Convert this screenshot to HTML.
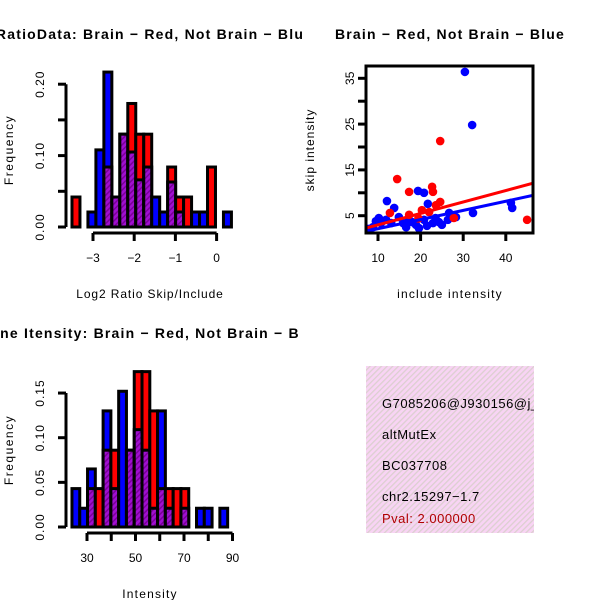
<!DOCTYPE html>
<html><head><meta charset="utf-8"><style>
html,body{margin:0;padding:0;background:#fff;}
svg{display:block;font-family:"Liberation Sans",sans-serif;}
</style></head><body>
<svg id="chart" width="600" height="600" viewBox="0 0 600 600" xmlns="http://www.w3.org/2000/svg">
<defs>
<pattern id="hatch" patternUnits="userSpaceOnUse" width="4" height="4" patternTransform="rotate(45)">
<rect width="4" height="4" fill="#a010d0"/><rect width="1.5" height="4" fill="#7a0099"/>
</pattern>
<pattern id="pinkhatch" patternUnits="userSpaceOnUse" width="4" height="4" patternTransform="rotate(45)">
<rect width="4" height="4" fill="#f8d4f4"/><rect width="1.3" height="4" fill="#dccfd0"/>
</pattern>
<clipPath id="infoclip"><rect x="366" y="366" width="168" height="167"/></clipPath>
</defs>
<g id="p1"></g>
<g id="p2"></g>
<g id="p3"></g>
<g id="info" clip-path="url(#infoclip)" letter-spacing="0.5">
<rect x="366" y="366" width="168" height="167" fill="url(#pinkhatch)"/>
<text x="382" y="408" font-size="13">G7085206@J930156@j_</text>
<text x="382" y="439" font-size="13">altMutEx</text>
<text x="382" y="470" font-size="13">BC037708</text>
<text x="382" y="501" font-size="13">chr2.15297−1.7</text>
<text x="382" y="523" font-size="13" fill="#b00000">Pval: 2.000000</text>
</g>
</svg>
<script>
// Histogram 1: Log2 ratio
const ratioBinStart = -3.51;
const ratioBinWidth = 0.1935;
const ratioBlue = [0,0,0.021,0.108,0.217,0.042,0.13,0.105,0.066,0.084,0.042,0.021,0.063,0.021,0,0.021,0.021,0,0,0.021];
const ratioRed  = [0.042,0,0,0,0.084,0.042,0.13,0.173,0.13,0.13,0,0,0.084,0.042,0.042,0,0,0.084,0,0];
const ratioXTicks = [-3,-2,-1,0];
const ratioXLabels = ["−3","−2","−1","0"];
const ratioYTicks = [0,0.05,0.10,0.15,0.20];
const ratioYLabels = ["0.00","","0.10","","0.20"];
// Histogram 2: Intensity
const intBinStart = 23.8;
const intBinWidth = 3.21;
const intBlue = [0.043,0.021,0.065,0,0.13,0.043,0.152,0.086,0.109,0.086,0.021,0.13,0.021,0,0.021,0,0.021,0.021,0,0.021];
const intRed  = [0,0,0.043,0.043,0.086,0.086,0,0.086,0.174,0.174,0.13,0.043,0.043,0.043,0.043,0,0,0,0,0];
const intXTicks = [30,40,50,60,70,80,90];
const intXLabels = ["30","","50","","70","","90"];
const intYTicks = [0,0.05,0.10,0.15];
const intYLabels = ["0.00","0.05","0.10","0.15"];
// Scatter
const blueX = [30.4,32.1,41.2,41.5,19.4,20.8,12.1,13.8,21.7,28.3,32.3,8.8,10.2,10.7,14.9,15.9,18.9,19.6,22.9,24.3,26.4,26.7,17.3,13.1,20.8,7.7,11.9,16.6,9.5,23.5,25,18,21.5];
const blueY = [36.4,24.8,7.8,6.7,10.4,10.0,8.2,6.7,7.6,4.7,5.6,2.5,4.5,3.4,4.7,3.4,3.0,2.3,3.4,3.6,4.1,5.6,4.1,3.4,4.1,2.1,4.1,2.5,3.8,4.5,3.0,3.6,2.8];
const redX = [24.6,14.5,17.3,22.7,22.9,24.6,20.3,12.8,17.3,23.6,22,27.8,45,19.5];
const redY = [21.3,13.0,10.2,11.3,10.2,8.0,6.2,5.6,5.2,7.3,5.8,4.5,4.1,4.4];
const redFit = [0.5,0.25];
const blueFit = [0.16,0.2];
const scatterXTicks = [10,20,30,40];
const scatterYTicks = [5,10,15,20,25,30,35];
const scatterYLabels = ["5","","15","","25","","35"];

const NS="http://www.w3.org/2000/svg";
function mk(parent,tag,attrs){const e=document.createElementNS(NS,tag);for(const k in attrs)e.setAttribute(k,attrs[k]);parent.appendChild(e);return e;}

function histogram(g,cfg){
  const sx=v=>cfg.x0+(v-cfg.xv0)*cfg.kx;
  const sy=v=>cfg.base-v*cfg.ky;
  for(let i=0;i<cfg.blue.length;i++){
    const b=cfg.blue[i],r=cfg.red[i];
    const xl=sx(cfg.binStart+i*cfg.binWidth), xr=sx(cfg.binStart+(i+1)*cfg.binWidth);
    const hi=Math.max(b,r), lo=Math.min(b,r);
    if(hi>0){
      const e=mk(g,'rect',{x:xl,y:sy(hi),width:xr-xl,height:cfg.base-sy(hi),fill:b>=r?'#0000ff':'#ff0000',stroke:'#000','stroke-width':3});
      
      
    }
    if(lo>0){
      const e=mk(g,'rect',{x:xl,y:sy(lo),width:xr-xl,height:cfg.base-sy(lo),fill:'url(#hatch)',stroke:'#000','stroke-width':3});
      
      
    }
  }
  const yt=cfg.yTicks;
  const ya=mk(g,'line',{x1:cfg.yAxisX,x2:cfg.yAxisX,y1:sy(yt[0]),y2:sy(yt[yt.length-1]),stroke:'#000','stroke-width':3});
  
  
  yt.forEach((v,i)=>{
    mk(g,'line',{x1:cfg.yAxisX-8,x2:cfg.yAxisX,y1:sy(v),y2:sy(v),stroke:'#000','stroke-width':3});
    if(cfg.yLabels[i]){
      const t=mk(g,'text',{x:0,y:0,'font-size':12,'letter-spacing':1,'text-anchor':'middle',transform:`translate(${cfg.yAxisX-22},${sy(v)}) rotate(-90)`});
      t.textContent=cfg.yLabels[i];
      
      
    }
  });
  const xt=cfg.xTicks;
  const xa=mk(g,'line',{x1:sx(xt[0]),x2:sx(xt[xt.length-1]),y1:cfg.xAxisY,y2:cfg.xAxisY,stroke:'#000','stroke-width':3});
  
  
  xt.forEach((v,i)=>{
    mk(g,'line',{x1:sx(v),x2:sx(v),y1:cfg.xAxisY,y2:cfg.xAxisY+8,stroke:'#000','stroke-width':3});
    if(cfg.xLabels[i]){
      const t=mk(g,'text',{x:sx(v),y:cfg.xAxisY+29,'font-size':12,'text-anchor':'middle'});
      t.textContent=cfg.xLabels[i];
      
      
    }
  });
  const tt=mk(g,'text',{x:150,y:cfg.titleY,'font-size':14,'letter-spacing':1.2,'font-weight':'bold','text-anchor':'middle'});
  tt.textContent=cfg.title;
  
  
  const xl=mk(g,'text',{x:150,y:cfg.xAxisY+65,'font-size':12,'letter-spacing':cfg.xTitleSp,'text-anchor':'middle'});
  xl.textContent=cfg.xTitle;
  
  
  const yl=mk(g,'text',{x:0,y:0,'font-size':12,'letter-spacing':1.5,'text-anchor':'middle',transform:`translate(13,${cfg.yTitleY}) rotate(-90)`});
  yl.textContent='Frequency';
  
  
}

histogram(document.getElementById('p1'),{x0:93,xv0:-3,kx:41.2,base:227,ky:714,binStart:ratioBinStart,binWidth:ratioBinWidth,
  blue:ratioBlue,red:ratioRed,yTicks:ratioYTicks,yLabels:ratioYLabels,xTicks:ratioXTicks,xLabels:ratioXLabels,yAxisX:66,xAxisY:233,
  title:'RatioData: Brain − Red, Not Brain − Blu',titleY:39,xTitle:'Log2 Ratio Skip/Include',xTitleSp:0.9,yTitleY:150});
histogram(document.getElementById('p3'),{x0:87,xv0:30,kx:2.425,base:527,ky:893,binStart:intBinStart,binWidth:intBinWidth,
  blue:intBlue,red:intRed,yTicks:intYTicks,yLabels:intYLabels,xTicks:intXTicks,xLabels:intXLabels,yAxisX:66,xAxisY:533,
  title:'ne Itensity: Brain − Red, Not Brain − B',titleY:338,xTitle:'Intensity',xTitleSp:1.2,yTitleY:450});

(function(){
  const g=document.getElementById('p2');
  const L=366,R=533,T=66,B=233;
  const sx=v=>378+(v-10)*4.26;
  const sy=v=>215.7-(v-5)*4.58;
  const clip=mk(g,'clipPath',{id:'sc'});mk(clip,'rect',{x:L,y:T,width:R-L,height:B-T});
  const pts=mk(g,'g',{'clip-path':'url(#sc)'});
  blueX.forEach((x,i)=>{
    const c=mk(pts,'circle',{cx:sx(x),cy:sy(blueY[i]),r:4.3,fill:'#0000ff'});
    
    
  });
  redX.forEach((x,i)=>{
    const c=mk(pts,'circle',{cx:sx(x),cy:sy(redY[i]),r:4.3,fill:'#ff0000'});
    
    
  });
  const xa=(L-378)/4.26+10, xb=(R-378)/4.26+10;
  const rl=mk(pts,'line',{x1:sx(xa),y1:sy(redFit[0]+redFit[1]*xa),x2:sx(xb),y2:sy(redFit[0]+redFit[1]*xb),stroke:'#ff0000','stroke-width':3});
  
  
  const bl=mk(pts,'line',{x1:sx(xa),y1:sy(blueFit[0]+blueFit[1]*xa),x2:sx(xb),y2:sy(blueFit[0]+blueFit[1]*xb),stroke:'#0000ff','stroke-width':3});
  
  
  const box=mk(g,'rect',{x:L,y:T,width:R-L,height:B-T,fill:'none',stroke:'#000','stroke-width':3});
  
  
  scatterXTicks.forEach(v=>{
    mk(g,'line',{x1:sx(v),x2:sx(v),y1:B,y2:B+8,stroke:'#000','stroke-width':3});
    const t=mk(g,'text',{x:sx(v),y:B+29,'font-size':12,'text-anchor':'middle'});
    t.textContent=String(v);
    
    
  });
  scatterYTicks.forEach((v,i)=>{
    mk(g,'line',{x1:L-8,x2:L,y1:sy(v),y2:sy(v),stroke:'#000','stroke-width':3});
    if(scatterYLabels[i]){
      const t=mk(g,'text',{x:0,y:0,'font-size':12,'text-anchor':'middle',transform:`translate(${L-12},${sy(v)}) rotate(-90)`});
      t.textContent=scatterYLabels[i];
      
      
    }
  });
  const tt=mk(g,'text',{x:450,y:39,'font-size':14,'letter-spacing':1.2,'font-weight':'bold','text-anchor':'middle'});
  tt.textContent='Brain − Red, Not Brain − Blue';
  
  
  const xl=mk(g,'text',{x:450,y:298,'font-size':12,'letter-spacing':1.2,'text-anchor':'middle'});
  xl.textContent='include intensity';
  
  
  const yl=mk(g,'text',{x:0,y:0,'font-size':12,'letter-spacing':1,'text-anchor':'middle',transform:'translate(314,150) rotate(-90)'});
  yl.textContent='skip intensity';
  
  
})();
</script>
</body></html>
